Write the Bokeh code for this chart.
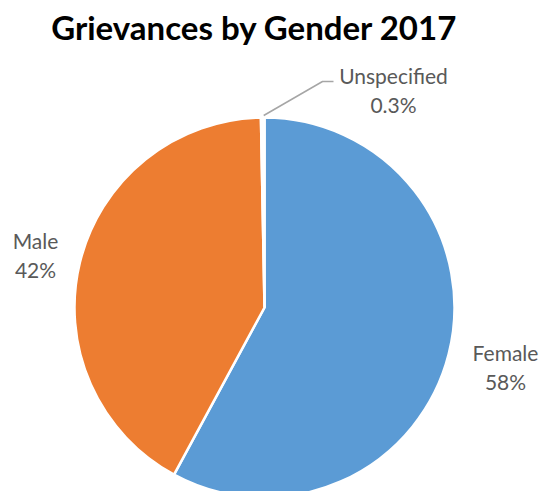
import numpy as np
from bokeh.plotting import figure
from bokeh.models import ColumnDataSource
from bokeh.core.properties import value
from bokeh.embed import file_html
from bokeh.resources import INLINE

# ---- data ----
categories = ["Female", "Male", "Unspecified"]
percent = [57.9, 41.8, 0.3]
label_pct = ["58%", "42%", "0.3%"]
colors = ["#5B9BD5", "#ED7D31", "#FFFFFF"]

W, H = 542, 491
CX, CY, R = 264, H - 307, 190

fracs = np.array(percent) / sum(percent)
ends = np.cumsum(fracs) * 2 * np.pi
starts = ends - fracs * 2 * np.pi
# clockwise from 12 o'clock -> bokeh (anticlockwise from +x)
src = ColumnDataSource(dict(
    cat=categories,
    start=np.pi / 2 - ends,
    end=np.pi / 2 - starts,
    color=colors,
))

p = figure(width=W, height=H, x_range=(0, W), y_range=(0, H),
           output_backend="svg", toolbar_location=None, min_border=0)
p.axis.visible = False
p.grid.visible = False
p.outline_line_color = None

p.wedge(x=CX, y=CY, radius=R, start_angle="start", end_angle="end",
        fill_color="color", line_color="white", line_width=2.5, source=src)

# title
p.text(x=[254], y=[H - 26], text=["Grievances by Gender 2017"],
       text_font=value("Lato"), text_font_style="bold", text_font_size="33px",
       text_align="center", text_baseline="middle", text_color="#000000")

# labels (name / percent on two lines)
lab_x = [505, 35, 393]
lab_y = [H - 352, H - 240, H - 75]
for i in range(3):
    p.text(x=[lab_x[i]], y=[lab_y[i]], text=[categories[i]],
           text_font=value("Lato"), text_font_size="21px",
           text_align="center", text_baseline="middle", text_color="#595959")
    p.text(x=[lab_x[i]], y=[lab_y[i] - 29], text=[label_pct[i]],
           text_font=value("Lato"), text_font_size="21px",
           text_align="center", text_baseline="middle", text_color="#595959")

# leader line for Unspecified
mid = (starts[2] + ends[2]) / 2
ang = np.pi / 2 - mid
sx, sy = CX + R * np.cos(ang) + 1, CY + R * np.sin(ang) + 2
p.line(x=[sx, 322, 333], y=[sy, H - 81, H - 81], line_color="#A6A6A6", line_width=1.5)

open("out.html", "w").write(file_html(p, INLINE))
